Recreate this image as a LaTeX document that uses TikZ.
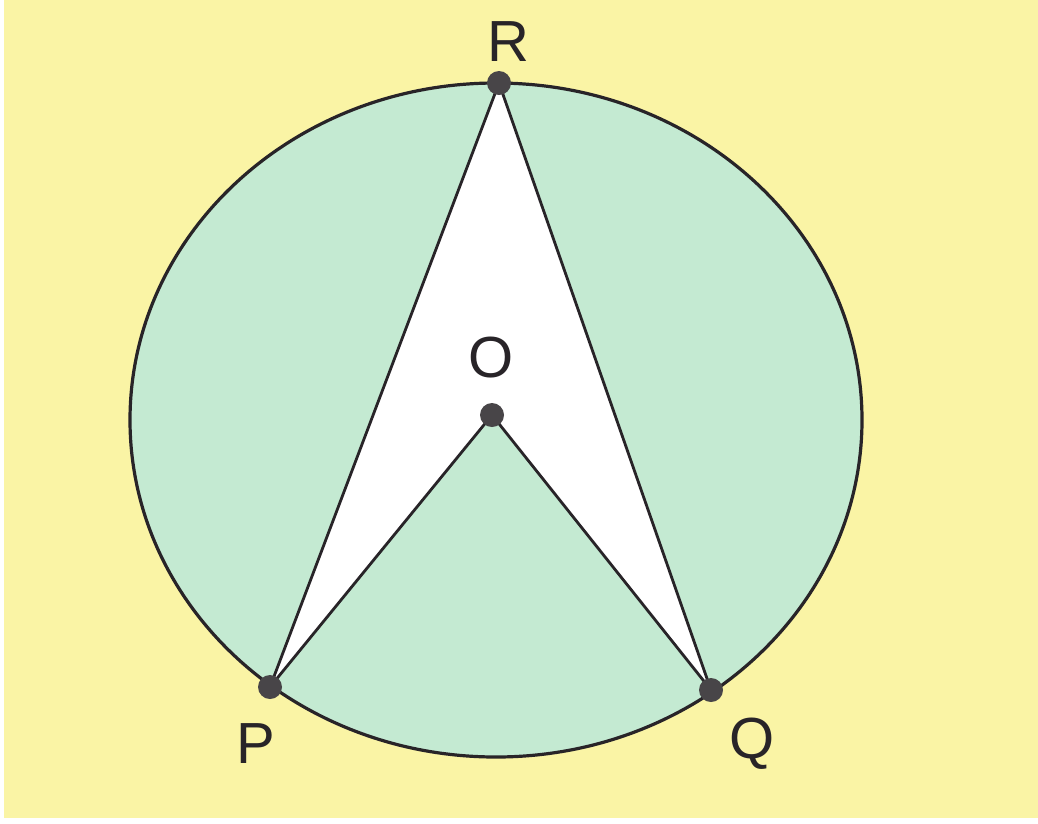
\documentclass[tikz,border=0pt]{standalone}
\usepackage{fontspec}
\setmainfont{Liberation Sans}
\definecolor{bgyellow}{RGB}{250,244,165}
\definecolor{mint}{RGB}{196,234,210}
\definecolor{ink}{RGB}{40,36,40}
\begin{document}
\begin{tikzpicture}[x=1pt,y=-1pt,
  edge/.style={draw=ink,line width=3.2pt},
  chord/.style={draw=ink,line width=2.8pt},
  vdot/.style={circle,fill=ink!85,inner sep=0pt,minimum size=24pt},
  lbl/.style={text=ink,font=\fontsize{58}{60}\selectfont,inner sep=0pt}]
\useasboundingbox (0,0) rectangle (1038,823);
\fill[white] (0,0) rectangle (1038,823);
\fill[bgyellow] (4,0) rectangle (1038,818);
\coordinate (C) at (496,420);
\coordinate (R) at (499,83);
\coordinate (P) at (270,687);
\coordinate (Q) at (711,690);
\coordinate (O) at (492,415);
\fill[mint] (C) ellipse [x radius=366, y radius=337];
\fill[white] (R) -- (P) -- (O) -- (Q) -- cycle;
\draw[edge] (C) ellipse [x radius=366, y radius=337];
\draw[chord] (R) -- (P);
\draw[chord] (R) -- (Q);
\draw[chord] (O) -- (P);
\draw[chord] (O) -- (Q);
\node[vdot] (dR) at (R) {};
\node[vdot] (dP) at (P) {};
\node[vdot] (dQ) at (Q) {};
\node[vdot] (dO) at (O) {};
\node[lbl] (lR) at (508,42) {R};
\node[lbl] (lP) at (256,744) {P};
\node[lbl] (lQ) at (752,744) {Q};
\node[lbl] (lO) at (491,358) {O};
\end{tikzpicture}
\end{document}
